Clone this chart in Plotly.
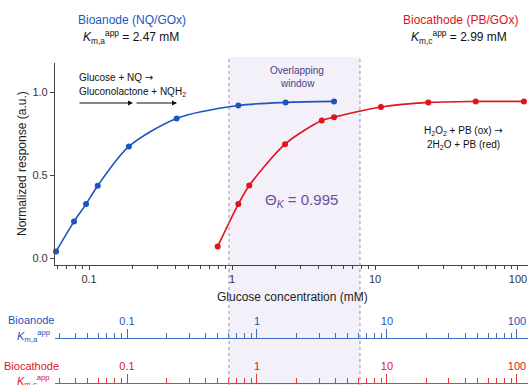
import plotly.graph_objects as go

# ---------------- data ----------------
anode_conc = [0.0588, 0.0785, 0.0953, 0.115, 0.190, 0.410, 1.107, 2.37, 5.17]
anode_resp = [0.04, 0.22, 0.326, 0.437, 0.674, 0.843, 0.921, 0.940, 0.946]

cathode_conc = [0.794, 1.107, 1.32, 2.35, 4.24, 5.17, 11.0, 23.6, 50.6, 110.0]
cathode_resp = [0.07, 0.326, 0.438, 0.688, 0.831, 0.851, 0.912, 0.940, 0.946, 0.946]

window_lo, window_hi = 0.953, 7.85
major_ticks = [0.1, 1, 10, 100]
major_labels = ["0.1", "1", "10", "100"]
minor_ticks = [0.03, 0.04, 0.05, 0.06, 0.07, 0.08, 0.09,
               0.2, 0.3, 0.4, 0.5, 0.6, 0.7, 0.8, 0.9,
               2, 3, 4, 5, 6, 7, 8, 9,
               20, 30, 40, 50, 60, 70, 80, 90]
y_ticks = [0.0, 0.5, 1.0]
y_labels = ["0.0", "0.5", "1.0"]

# ---------------- style ----------------
BLUE = "#1c55c0"
RED = "#e0141b"
BLUE_AX = "#3f6fc2"
RED_AX = "#e23a3f"
PURPLE = "#6a4ea3"
SHADE = "#f3f0f9"
DASH = "#9b82d8"
AX = "#444444"
FONT = "Liberation Sans, Arial, sans-serif"
ARROW = '<span style="font-family:DejaVu Sans">→</span>'

W, H = 529, 385
L, R, T, B = 55, 528, 63, 384
PW, PH = R - L, B - T


def px(x):
    return (x - L) / PW


def py(y):
    return (B - y) / PH


fig = go.Figure()

fig.add_trace(go.Scatter(
    x=anode_conc, y=anode_resp, mode="lines+markers",
    line=dict(color=BLUE, width=1.6, shape="spline", smoothing=0.8),
    marker=dict(color=BLUE, size=6), showlegend=False, cliponaxis=False))
fig.add_trace(go.Scatter(
    x=cathode_conc, y=cathode_resp, mode="lines+markers",
    line=dict(color=RED, width=1.6, shape="spline", smoothing=0.8),
    marker=dict(color=RED, size=6), showlegend=False, cliponaxis=False))

# dummy traces so the extra scale axes are drawn
fig.add_trace(go.Scatter(x=[1], y=[None], xaxis="x2", yaxis="y",
                         mode="markers", showlegend=False, hoverinfo="skip"))
fig.add_trace(go.Scatter(x=[1], y=[None], xaxis="x3", yaxis="y",
                         mode="markers", showlegend=False, hoverinfo="skip"))

ydom0 = py(265)

fig.update_layout(
    width=W, height=H,
    margin=dict(l=L, r=W - R, t=T, b=H - B),
    paper_bgcolor="white", plot_bgcolor="rgba(0,0,0,0)",
    font=dict(family=FONT, size=11, color="#222"),
    xaxis=dict(type="log", range=[-1.238, 2.070], anchor="y",
               showgrid=False, zeroline=False, showline=True, linecolor=AX, linewidth=1.2,
               ticks="outside", ticklen=4, tickcolor=AX,
               tickvals=major_ticks, ticktext=major_labels,
               tickfont=dict(size=11, color="#333"),
               minor=dict(tickvals=minor_ticks, ticks="outside", ticklen=3, tickcolor=AX, showgrid=False)),
    yaxis=dict(domain=[ydom0, 1], range=[-0.042, 1.178],
               showgrid=False, zeroline=False, showline=True, linecolor=AX, linewidth=1.2,
               ticks="outside", ticklen=4, tickcolor=AX,
               tickvals=y_ticks, ticktext=y_labels,
               tickfont=dict(size=11, color="#333")),
    xaxis2=dict(type="log", range=[-1.554, 2.085], overlaying="x", anchor="free",
                position=py(338), side="top",
                showgrid=False, zeroline=False, showline=True, linecolor=BLUE_AX, linewidth=1.2,
                ticks="outside", ticklen=9, tickcolor=BLUE_AX,
                tickvals=major_ticks, ticktext=major_labels,
                tickfont=dict(size=11, color=BLUE),
                minor=dict(tickvals=minor_ticks, ticks="outside", ticklen=5, tickcolor=BLUE_AX, showgrid=False)),
    xaxis3=dict(type="log", range=[-1.554, 2.085], overlaying="x", anchor="free",
                position=0.002, side="top",
                showgrid=False, zeroline=False, showline=True, linecolor=RED_AX, linewidth=1.2,
                ticks="outside", ticklen=9, tickcolor=RED_AX,
                tickvals=major_ticks, ticktext=major_labels,
                tickfont=dict(size=11, color=RED),
                minor=dict(tickvals=minor_ticks, ticks="outside", ticklen=5, tickcolor=RED_AX, showgrid=False)),
)

# overlapping window shading + dashed borders
y_top = py(57)
y_bot = py(386)
fig.add_shape(type="rect", xref="x", yref="paper", x0=window_lo, x1=window_hi,
              y0=y_bot, y1=y_top, fillcolor=SHADE, line=dict(width=0), layer="below")
for xv in (window_lo, window_hi):
    fig.add_shape(type="line", xref="x", yref="paper", x0=xv, x1=xv,
                  y0=y_bot, y1=y_top, line=dict(color=DASH, width=1, dash="3px,3px"), layer="above")

ann = []


def text(x, y, s, size=11, color="#222", xanchor="center", angle=0):
    ann.append(dict(x=px(x), y=py(y), xref="paper", yref="paper", text=s, showarrow=False,
                    xanchor=xanchor, yanchor="middle", textangle=angle,
                    font=dict(family=FONT, size=size, color=color)))


text(132, 20, "Bioanode (NQ/GOx)", 12, BLUE)
text(131, 37, "<i>K</i><sub>m,a</sub><sup>app</sup> = 2.47 mM", 12, "#111")
text(460, 20, "Biocathode (PB/GOx)", 12, RED)
text(459, 37, "<i>K</i><sub>m,c</sub><sup>app</sup> = 2.99 mM", 12, "#111")

text(77, 77, "Glucose + NQ " + ARROW, 10, "#111", xanchor="left")
text(77, 92, "Gluconolactone + NQH<sub>2</sub>", 10, "#111", xanchor="left")

text(297, 70, "Overlapping", 10, "#4a3f80")
text(297, 83, "window", 10, "#4a3f80")

text(463, 131, "H<sub>2</sub>O<sub>2</sub> + PB (ox) " + ARROW, 10, "#111")
text(463, 145, "2H<sub>2</sub>O + PB (red)", 10, "#111")

text(301, 200, "Θ<sub><i>K</i></sub> = 0.995", 15, PURPLE)

text(292, 297, "Glucose concentration (mM)", 12, "#222")
text(22, 164, "Normalized response (a.u.)", 12, "#222", angle=-90)

text(31, 320, "Bioanode", 11, BLUE)
text(33, 336, "<i>K</i><sub>m,a</sub><sup>app</sup>", 11, BLUE)
text(31, 366, "Biocathode", 11, RED)
text(33, 381, "<i>K</i><sub>m,c</sub><sup>app</sup>", 11, RED)

# reaction arrows
for x_head, x_tail in ((133, 78), (177, 135)):
    ann.append(dict(x=px(x_head), y=py(103), xref="paper", yref="paper", text="",
                    showarrow=True, ax=x_tail - x_head, ay=0, axref="pixel", ayref="pixel",
                    arrowhead=2, arrowsize=1, arrowwidth=1, arrowcolor="#111", standoff=0))

fig.update_layout(annotations=ann)

fig.write_html("out.html")
